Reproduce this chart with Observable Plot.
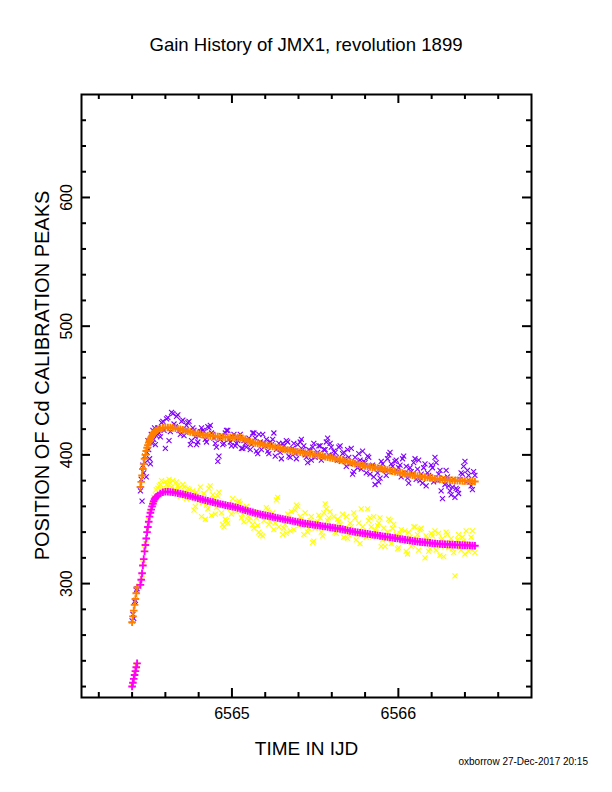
<!DOCTYPE html>
<html><head><meta charset="utf-8">
<script src="https://cdn.jsdelivr.net/npm/d3@7"></script>
<script src="https://cdn.jsdelivr.net/npm/@observablehq/plot@0.6"></script>
<style>
html,body{margin:0;padding:0;background:#fff;}
#page{position:relative;width:612px;height:792px;background:#fff;font-family:"Liberation Sans",Arial,Helvetica,sans-serif;color:#000;overflow:hidden}
#title{position:absolute;left:0;top:34px;width:612px;text-align:center;font-size:18.6px;line-height:22px}
#chart{position:absolute;left:0;top:70px}
#footer{position:absolute;right:24px;top:756px;font-size:10px;line-height:12px}
</style></head><body>
<div id="page">
<div id="title">Gain History of JMX1, revolution 1899</div>
<div id="chart"></div>
<div id="footer">oxborrow 27-Dec-2017 20:15</div>
</div>
<script>
// Time stamps (IJD) shared by fits and first set of measurements
const times = [
 6564.400, 6564.405, 6564.410, 6564.415, 6564.420, 6564.425, 6564.430,
 6564.450, 6564.455, 6564.460, 6564.465, 6564.470, 6564.475, 6564.480, 6564.485, 6564.490, 6564.495,
 6564.500, 6564.505, 6564.510, 6564.515, 6564.520, 6564.525, 6564.530, 6564.535, 6564.540, 6564.545,
 6564.555, 6564.570, 6564.585, 6564.600, 6564.615, 6564.630, 6564.645, 6564.660, 6564.675, 6564.690,
 6564.705, 6564.720, 6564.735, 6564.750, 6564.765, 6564.780, 6564.795, 6564.810, 6564.825, 6564.840,
 6564.855, 6564.870, 6564.885, 6564.900, 6564.915, 6564.930, 6564.945, 6564.960, 6564.975, 6564.990,
 6565.005, 6565.020, 6565.035, 6565.050, 6565.065, 6565.080, 6565.095, 6565.110, 6565.125, 6565.140,
 6565.155, 6565.170, 6565.185, 6565.200, 6565.215, 6565.230, 6565.245, 6565.260, 6565.275, 6565.290,
 6565.305, 6565.320, 6565.335, 6565.350, 6565.365, 6565.380, 6565.395, 6565.410, 6565.425, 6565.440,
 6565.455, 6565.470, 6565.485, 6565.500, 6565.515, 6565.530, 6565.545, 6565.560, 6565.575, 6565.590,
 6565.605, 6565.620, 6565.635, 6565.650, 6565.665, 6565.680, 6565.695, 6565.710, 6565.725, 6565.740,
 6565.755, 6565.770, 6565.785, 6565.800, 6565.815, 6565.830, 6565.845, 6565.860, 6565.875, 6565.890,
 6565.905, 6565.920, 6565.935, 6565.950, 6565.965, 6565.980, 6565.995, 6566.010, 6566.025, 6566.040,
 6566.055, 6566.070, 6566.085, 6566.100, 6566.115, 6566.130, 6566.145, 6566.160, 6566.175, 6566.190,
 6566.205, 6566.220, 6566.235, 6566.250, 6566.265, 6566.280, 6566.295, 6566.310, 6566.325, 6566.340,
 6566.355, 6566.370, 6566.385, 6566.400, 6566.415, 6566.430, 6566.445, 6566.460
];
// Upper peak, measured (purple x)
const upperMeasured = [
 271, 276, 273, 286, 287, 295, 296,
 372, 381, 364, 392, 386, 399, 394, 383, 402, 411,
 404, 397, 393, 416, 409, 419, 412, 421, 408, 415,
 421, 414, 426, 405, 429, 418, 432, 422, 431, 416,
 427, 419, 425, 408, 421, 414, 410, 418, 419, 412,
 422, 423, 416, 409, 395, 412, 408, 417, 419, 410,
 414, 407, 411, 416, 405, 409, 411, 404, 417, 413,
 401, 410, 416, 407, 403, 410, 412, 399, 406, 402,
 409, 404, 410, 398, 405, 401, 408, 410, 404, 400,
 394, 403, 406, 398, 402, 407, 399, 404, 413, 409,
 399, 402, 396, 407, 401, 397, 404, 393, 385, 398,
 390, 396, 403, 394, 399, 385, 392, 377, 386, 382,
 393, 388, 397, 402, 391, 395, 387, 392, 397, 386,
 382, 390, 385, 397, 389, 380, 378, 393, 386, 383,
 390, 398, 380, 388, 366, 377, 383, 372, 375, 367,
 373, 381, 385, 395, 388, 379, 373, 384
];
// Upper peak, smoothed (orange +)
const upperSmooth = [
 270, 274.5, 279, 283.5, 288, 292.5, 297,
 375, 379, 384, 389, 393, 397, 400, 403, 405.5, 407.5,
 409.5, 411, 412.5, 413.8, 415, 416, 417, 417.8, 418.5, 419,
 419.8, 420.5, 421, 421.2, 421.3, 421.2, 421, 420.7, 420.3, 419.9,
 419.4, 418.9, 418.4, 417.9, 417.4, 416.9, 416.4, 416, 415.6, 415.3,
 415, 414.8, 414.6, 414.4, 414.2, 414, 413.9, 413.8, 413.7, 413.6,
 413.5, 413.4, 413.3, 413.2, 412.8, 412.2, 410.8, 410.2, 409.7, 409.3,
 408.9, 408.5, 408.1, 407.7, 407.3, 406.9, 406.5, 406.1, 405.6, 405.1,
 404.7, 404.2, 403.8, 403.4, 403, 402.6, 402.3, 402, 401.7, 401.4,
 401.1, 400.8, 400.5, 400.2, 399.8, 399.4, 399, 398.6, 398.2, 397.8,
 397.4, 397, 396.6, 396.2, 395.7, 395.2, 394.7, 394.2, 393.7, 393.2,
 392.7, 392.2, 391.8, 391.4, 391, 390.7, 390.4, 390.1, 389.8, 389.4,
 389, 388.6, 388.2, 387.8, 387.4, 387, 386.6, 386.2, 385.8, 385.4,
 385, 384.6, 384.2, 383.9, 383.6, 383.3, 383, 382.7, 382.4, 382.1,
 381.8, 381.5, 381.3, 381.1, 380.9, 380.7, 380.5, 380.3, 380.2, 380.1,
 380, 379.9, 379.8, 379.7, 379.6, 379.5, 379.4, 379.3
];
// Lower peak, measured (yellow x)
const lowerMeasured = [
 221, 224, 225, 230, 231, 236, 237,
 300, 305, 307, 316, 318, 327, 331, 334, 342, 346,
 349, 356, 353, 359, 362, 361, 367, 364, 369, 373,
 374, 377, 372, 379, 375, 378, 380, 373, 376, 368,
 377, 371, 374, 366, 372, 360, 369, 375, 363, 350,
 358, 376, 369, 354, 368, 361, 346, 350, 347, 358,
 366, 359, 363, 362, 354, 358, 352, 351, 346, 356,
 345, 338, 337, 353, 357, 348, 355, 347, 367, 351,
 338, 346, 354, 341, 349, 357, 360, 352, 345, 355,
 340, 349, 332, 343, 348, 351, 337, 362, 349, 356,
 344, 340, 350, 346, 354, 343, 335, 347, 341, 351,
 338, 331, 344, 339, 358, 351, 336, 342, 345, 351,
 334, 329, 340, 349, 343, 336, 327, 339, 333, 341,
 323, 336, 330, 344, 338, 342, 333, 320, 335, 327,
 337, 341, 330, 322, 335, 329, 338, 332, 327, 306,
 334, 328, 336, 323, 331, 327, 341, 324
];
// Lower peak, smoothed (magenta +)
const lowerSmooth = [
 220, 223, 226, 229, 232, 235, 238,
 299, 303, 308, 314, 319, 325, 330, 335, 340, 344,
 348, 352, 355, 357.5, 360, 362, 364, 365.5, 366.5, 367.5,
 368.5, 370, 371, 371.3, 371.3, 371.2, 371, 370.6, 370.2, 369.8,
 369.4, 368.9, 368.4, 368, 367.5, 367, 366.3, 365.8, 365.3, 364.8,
 364.3, 363.8, 363.3, 362.8, 362.3, 361.8, 361.4, 361, 360.5, 360.2,
 359.8, 359.3, 358.8, 358.2, 357.6, 357, 356.4, 355.9, 355.3, 354.8,
 354.3, 353.8, 353.4, 353, 352.6, 352.2, 351.8, 351.4, 351, 350.6,
 350.2, 349.8, 349.4, 349, 348.6, 348.2, 347.8, 347.4, 347, 346.7,
 346.4, 346.1, 345.8, 345.5, 345.2, 344.9, 344.6, 344.3, 344, 343.7,
 343.4, 343.1, 342.8, 342.5, 342.1, 341.7, 341.3, 340.9, 340.5, 340.1,
 339.8, 339.5, 339.2, 338.9, 338.6, 338.3, 338, 337.7, 337.4, 337.1,
 336.8, 336.5, 336.2, 335.9, 335.6, 335.3, 335, 334.7, 334.4, 334.1,
 333.8, 333.5, 333.2, 332.9, 332.6, 332.4, 332.2, 332, 331.8, 331.6,
 331.4, 331.2, 331, 330.8, 330.7, 330.6, 330.5, 330.4, 330.3, 330.2,
 330.1, 330, 329.9, 329.8, 329.7, 329.6, 329.5, 329.4
];
// Second set of measurement times (between the above)
const timesB = [
 6564.562, 6564.577, 6564.592, 6564.607, 6564.622, 6564.637, 6564.652, 6564.667, 6564.682, 6564.697,
 6564.712, 6564.727, 6564.742, 6564.757, 6564.772, 6564.787, 6564.802, 6564.817, 6564.832, 6564.847,
 6564.862, 6564.877, 6564.892, 6564.907, 6564.922, 6564.937, 6564.952, 6564.967, 6564.982, 6564.997,
 6565.012, 6565.027, 6565.042, 6565.057, 6565.072, 6565.087, 6565.102, 6565.117, 6565.132, 6565.147,
 6565.162, 6565.177, 6565.192, 6565.207, 6565.222, 6565.237, 6565.252, 6565.267, 6565.282, 6565.297,
 6565.312, 6565.327, 6565.342, 6565.357, 6565.372, 6565.387, 6565.402, 6565.417, 6565.432, 6565.447,
 6565.462, 6565.477, 6565.492, 6565.507, 6565.522, 6565.537, 6565.552, 6565.567, 6565.582, 6565.597,
 6565.612, 6565.627, 6565.642, 6565.657, 6565.672, 6565.687, 6565.702, 6565.717, 6565.732, 6565.747,
 6565.762, 6565.777, 6565.792, 6565.807, 6565.822, 6565.837, 6565.852, 6565.867, 6565.882, 6565.897,
 6565.912, 6565.927, 6565.942, 6565.957, 6565.972, 6565.987, 6566.002, 6566.017, 6566.032, 6566.047,
 6566.062, 6566.077, 6566.092, 6566.107, 6566.122, 6566.137, 6566.152, 6566.167, 6566.182, 6566.197,
 6566.212, 6566.227, 6566.242, 6566.257, 6566.272, 6566.287, 6566.302, 6566.317, 6566.332, 6566.347,
 6566.362, 6566.377, 6566.392, 6566.407, 6566.422, 6566.437, 6566.452
];
const upperMeasuredB = [
 417, 425, 419, 428, 411, 433, 424, 430, 419, 426,
 415, 423, 426, 411, 419, 408, 415, 421, 418, 410,
 421, 417, 413, 406, 399, 415, 409, 419, 412, 407,
 416, 409, 413, 405, 411, 406, 413, 408, 417, 403,
 416, 404, 409, 412, 401, 408, 417, 404, 409, 397,
 407, 411, 399, 404, 409, 397, 403, 412, 407, 398,
 404, 396, 409, 401, 407, 396, 404, 410, 400, 406,
 403, 398, 406, 395, 402, 391, 398, 405, 387, 394,
 401, 389, 395, 386, 398, 391, 383, 390, 379, 395,
 389, 384, 400, 393, 387, 396, 390, 383, 399, 391,
 378, 387, 394, 381, 396, 385, 390, 376, 384, 392,
 379, 394, 385, 372, 382, 388, 376, 369, 381, 374,
 370, 386, 391, 379, 384, 376, 387
];
const lowerMeasuredB = [
 376, 380, 373, 377, 381, 375, 371, 379, 374, 370,
 375, 366, 373, 369, 357, 371, 364, 352, 370, 361,
 374, 353, 366, 359, 371, 355, 344, 349, 362, 354,
 361, 356, 364, 351, 348, 360, 349, 356, 343, 351,
 340, 355, 349, 359, 346, 353, 342, 365, 344, 350,
 343, 339, 351, 356, 342, 361, 345, 350, 338, 347,
 343, 352, 333, 347, 353, 340, 355, 358, 351, 345,
 352, 339, 348, 343, 336, 352, 338, 344, 355, 334,
 347, 358, 340, 336, 349, 344, 352, 340, 347, 329,
 343, 335, 350, 331, 346, 338, 328, 342, 336, 325,
 340, 329, 344, 335, 326, 343, 331, 337, 325, 339,
 332, 326, 339, 334, 321, 340, 328, 335, 324, 330,
 338, 326, 333, 341, 325, 336, 329
];
// Tick values
const xMajorTicks = [6565, 6566];
const xMinorTicks = [6564.2, 6564.4, 6564.6, 6564.8, 6565.2, 6565.4, 6565.6, 6565.8, 6566.2, 6566.4, 6566.6];
const yMajorTicks = [300, 400, 500, 600];
const yMinorTicks = [220, 240, 260, 280, 320, 340, 360, 380, 420, 440, 460, 480, 520, 540, 560, 580, 620, 640, 660];

const n = Math.min(times.length, upperMeasured.length, upperSmooth.length, lowerMeasured.length, lowerSmooth.length);
const fitTable = [];
const obsTable = [];
for (let i = 0; i < n; i++) {
  fitTable.push({t: times[i], us: upperSmooth[i], ls: lowerSmooth[i]});
  obsTable.push({t: times[i], um: upperMeasured[i], lm: lowerMeasured[i]});
}
const nb = Math.min(timesB.length, upperMeasuredB.length, lowerMeasuredB.length);
for (let i = 0; i < nb; i++) obsTable.push({t: timesB[i], um: upperMeasuredB[i], lm: lowerMeasuredB[i]});

const plusSym = {draw(c, s) { const r = Math.sqrt(s / Math.PI); c.moveTo(-r, 0); c.lineTo(r, 0); c.moveTo(0, -r); c.lineTo(0, r); }};
const timesSym = {draw(c, s) { const r = Math.sqrt(s / Math.PI); c.moveTo(-r, -r); c.lineTo(r, r); c.moveTo(-r, r); c.lineTo(r, -r); }};

const W = 612, H = 688, mL = 81, mR = 81, mT = 24, mB = 61;
const frameW = W - mL - mR, frameH = H - mT - mB;
const font = "'Liberation Sans', Arial, Helvetica, sans-serif";

const chart = Plot.plot({
  width: W, height: H,
  marginLeft: mL, marginRight: mR, marginTop: mT, marginBottom: mB,
  x: {domain: [6564.096, 6566.8], axis: null},
  y: {domain: [211.5, 680], axis: null},
  style: {fontFamily: font, background: "white", color: "black", overflow: "visible"},
  marks: [
    Plot.dot(obsTable, {x: "t", y: "um", symbol: timesSym, r: 2.5, stroke: "#8000ff", fill: "none", strokeWidth: 1.1}),
    Plot.dot(obsTable, {x: "t", y: "lm", symbol: timesSym, r: 2.5, stroke: "#ffff00", fill: "none", strokeWidth: 1.1}),
    Plot.dot(fitTable, {x: "t", y: "us", symbol: plusSym, r: 3.8, stroke: "#ff7f00", fill: "none", strokeWidth: 1.9}),
    Plot.dot(fitTable, {x: "t", y: "ls", symbol: plusSym, r: 3.8, stroke: "#ff00ff", fill: "none", strokeWidth: 1.9}),
    Plot.frame({strokeWidth: 2}),
    Plot.tickX(xMinorTicks, {x: d => d, insetTop: frameH - 5, strokeWidth: 2}),
    Plot.tickX(xMinorTicks, {x: d => d, insetBottom: frameH - 5, strokeWidth: 2}),
    Plot.tickX(xMajorTicks, {x: d => d, insetTop: frameH - 9, strokeWidth: 2}),
    Plot.tickX(xMajorTicks, {x: d => d, insetBottom: frameH - 9, strokeWidth: 2}),
    Plot.tickY(yMinorTicks, {y: d => d, insetRight: frameW - 5, strokeWidth: 2}),
    Plot.tickY(yMinorTicks, {y: d => d, insetLeft: frameW - 5, strokeWidth: 2}),
    Plot.tickY(yMajorTicks, {y: d => d, insetRight: frameW - 9, strokeWidth: 2}),
    Plot.tickY(yMajorTicks, {y: d => d, insetLeft: frameW - 9, strokeWidth: 2}),
    Plot.text(xMajorTicks, {x: d => d, text: d => String(d), frameAnchor: "bottom", dy: 16, fontSize: 16, textAnchor: "middle", lineAnchor: "middle"}),
    Plot.text(yMajorTicks, {y: d => d, text: d => String(d), frameAnchor: "left", dx: -15, rotate: -90, fontSize: 16, textAnchor: "middle", lineAnchor: "middle"}),
    Plot.text(["TIME IN IJD"], {text: d => d, frameAnchor: "bottom", dy: 51, fontSize: 19, textAnchor: "middle", lineAnchor: "middle"}),
    Plot.text(["POSITION OF Cd CALIBRATION PEAKS"], {text: d => d, frameAnchor: "left", dx: -39, dy: -20.5, rotate: -90, fontSize: 20, textAnchor: "middle", lineAnchor: "middle"})
  ]
});
document.getElementById("chart").appendChild(chart);
</script>
</body></html>
